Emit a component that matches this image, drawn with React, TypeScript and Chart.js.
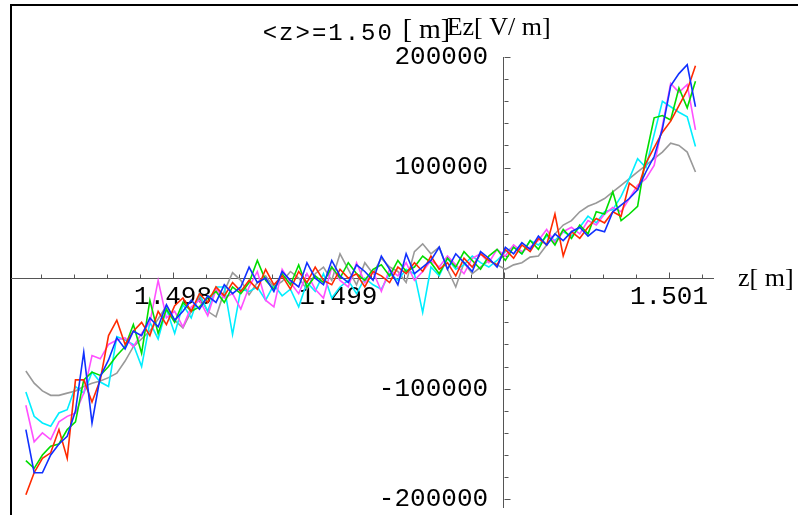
import { useEffect, useRef } from "react";
import { Chart, registerables } from "chart.js";

Chart.register(...registerables);

// sampling grid along z [m]
const Z_START = 1.49711;
const Z_STEP = 0.00005;
const N_POINTS = 82;

// Ez values in kV/m (converted to V/m below)
const redKV = [
  -196, -176, -163, -158, -137, -163, -92, -92, -112, -92, -52, -38, -60, -48, -40, -52, -30, -42, -25, -18,
  -30, -14, -22, -8, -16, -4, -12, -2, -10, 8, -6, 2, -10, 6, -4, 10, -2, -6, 8, 0,
  4, -8, 6, 2, -4, 10, 4, 14, 6, 20, 8, 14, 2, 18, 10, 22, 16, 12, 26, 18,
  30, 24, 36, 30, 58, 20, 42, 36, 46, 54, 50, 60, 56, 86, 80, 104, 118, 132, 142, 156,
  170, 192,
];
const greenKV = [
  -165, -172, -160, -152, -150, -137, -130, -92, -85, -88, -80, -70, -62, -42, -68, -20, -50, -28, -40, -22,
  -30, -26, -18, -12, -22, -8, -14, -4, 16, -2, -10, 4, -6, 12, -8, 2, -4, 10, 0, 14,
  4, -2, 8, 12, 2, 16, 6, 10, 20, 14, 4, 18, 10, 24, 16, 8, 20, 26, 16, 28,
  22, 34, 26, 40, 30, 44, 36, 48, 40, 60, 58, 78, 52, 58, 65, 110, 145, 147, 143, 172,
  154, 178,
];
const blueKV = [
  -137, -176, -176, -160, -150, -143, -120, -67, -131, -89, -74, -54, -64, -48, -52, -36, -44, -24, -38, -30,
  -20, -28, -16, -22, -6, -14, -8, 10, -4, 0, -12, 6, -2, -8, 14, 0, -6, 16, 2, -4,
  12, 6, -2, 20, 8, -6, 22, 4, 10, 16, 28, 8, 22, 14, 6, 24, 18, 10, 28, 22,
  32, 26, 38, 30, 40, 34, 42, 46, 38, 44, 42, 60, 66, 72, 80, 96, 110, 135, 174, 185,
  193, 155,
];
const magentaKV = [
  -115, -148, -140, -146, -130, -125, -122, -104, -70, -73, -60, -56, -54, -62, -50, -40, -2, -36, -30, -44,
  -26, -20, -34, -10, -18, -14, -28, -8, 6, -20, -26, 8, -4, -14, 4, -10, -18, 10, -2, -8,
  14, -4, 6, -12, 8, 2, 14, -2, 6, 16, 10, 20, 12, 4, 18, 22, 14, 26, 20, 30,
  24, 28, 34, 44, 32, 42, 46, 40, 52, 48, 58, 64, 60, 72, 84, 90, 102, 138, 176, 168,
  175, 134,
];
const cyanKV = [
  -103, -125, -131, -134, -122, -119, -98, -104, -85, -94, -98, -53, -56, -60, -80, -40, -55, -28, -50, -24,
  -36, -14, -30, -8, -8, -51, -10, -12, -8, -20, -6, -16, -10, -26, -4, -12, 4, -18, -8, -2,
  -14, 0, -6, -10, 4, -2, 8, 4, -31, 10, 2, 18, 8, 12, 20, 14, 10, 16, 24, 28,
  22, 34, 30, 38, 34, 42, 38, 46, 56, 50, 60, 62, 74, 90, 108, 100, 130, 160, 155, 150,
  146, 119,
];
const grayKV = [
  -84, -95, -102, -106, -106, -104, -102, -98, -95, -93, -90, -86, -75, -62, -55, -48, -37, -25, -38, -45,
  -30, -17, -30, -35, -12, 5, -2, -15, -4, 2, -8, -3, 6, 0, -10, 4, 10, -2, 22, 8,
  -6, 14, 4, 18, 10, 6, -4, 24, 31, 22, 28, 8, -8, 14, 4, 10, 16, 12, 8, 12,
  14, 19, 20, 30, 40, 48, 52, 60, 65, 68, 72, 78, 84, 90, 96, 102, 108, 114, 122, 120,
  114, 96,
];

const SERIES = [
  { name: "blue", color: "#1030ff", values: blueKV },
  { name: "red", color: "#ff2a00", values: redKV },
  { name: "green", color: "#00dd00", values: greenKV },
  { name: "magenta", color: "#ff50ff", values: magentaKV },
  { name: "cyan", color: "#00eeff", values: cyanKV },
  { name: "gray", color: "#999999", values: grayKV },
];

// axis ranges and ticks
const Z_MIN = 1.49702;
const Z_MAX = 1.501266;
const Z_ORIGIN = 1.5;
const Z_MINOR_STEP = 0.0002;
const E_MIN = -207000;
const E_MAX = 200000;
const E_TICK_FIRST = -200000;
const E_TICK_LAST = 200000;
const E_MINOR_STEP = 20000;

const PLOT_LABEL = "<z>=1.50";
const PLOT_LABEL_UNIT = "[ m]";
const Y_TITLE = "Ez[ V/ m]";
const X_TITLE = "z[ m]";

const AXIS_COLOR = "#555555";
const TICK_FONT = { family: "'Liberation Mono', monospace", size: 26 };

const isMajorZ = (v: number) => Math.abs(v * 1000 - Math.round(v * 1000)) < 1e-6;
const isMajorE = (v: number) => Math.abs(v % 100000) < 1e-6;

const tickMarks = {
  id: "tickMarks",
  beforeDatasetsDraw(chart: any) {
    const { ctx, scales } = chart;
    const xs = scales.x;
    const ys = scales.y;
    const x0 = Math.round(xs.getPixelForValue(Z_ORIGIN)) + 0.5;
    const y0 = Math.round(ys.getPixelForValue(0)) + 0.5;
    ctx.save();
    ctx.strokeStyle = AXIS_COLOR;
    ctx.lineWidth = 1;
    ctx.beginPath();
    xs.ticks.forEach((t: any) => {
      const px = Math.round(xs.getPixelForValue(t.value)) + 0.5;
      const len = isMajorZ(t.value) ? 6 : 4;
      ctx.moveTo(px, y0);
      ctx.lineTo(px, y0 - len);
    });
    ys.ticks.forEach((t: any) => {
      const py = Math.round(ys.getPixelForValue(t.value)) + 0.5;
      const len = isMajorE(t.value) ? 6 : 4;
      ctx.moveTo(x0, py);
      ctx.lineTo(x0 + len, py);
    });
    ctx.stroke();
    ctx.restore();
  },
};

const axisTexts = {
  id: "axisTexts",
  afterDraw(chart: any) {
    const { ctx, chartArea, scales } = chart;
    const x0 = scales.x.getPixelForValue(Z_ORIGIN);
    const y0 = scales.y.getPixelForValue(0);
    ctx.save();
    ctx.fillStyle = "#000";
    ctx.textBaseline = "alphabetic";
    ctx.textAlign = "left";
    ctx.font = "24px 'Liberation Mono'";
    (ctx as any).letterSpacing = "2px";
    ctx.fillText(PLOT_LABEL, x0 - 241, chartArea.top - 17);
    (ctx as any).letterSpacing = "0px";
    ctx.font = "28px 'Liberation Serif'";
    ctx.fillText(PLOT_LABEL_UNIT, x0 - 101, chartArea.top - 19);
    ctx.font = "26px 'Liberation Serif'";
    ctx.fillText(Y_TITLE, x0 - 57, chartArea.top - 22);
    ctx.fillText(X_TITLE, chartArea.right + 25, y0 + 8);
    ctx.restore();
  },
};

const zeroPadding = (scale: any) => {
  scale.paddingLeft = 0;
  scale.paddingRight = 0;
  scale.paddingTop = 0;
  scale.paddingBottom = 0;
};

export default function App() {
  const ref = useRef<HTMLCanvasElement | null>(null);

  useEffect(() => {
    if (!ref.current) return;
    const zGrid: number[] = [];
    for (let i = 0; i < N_POINTS; i++) zGrid.push(Z_START + i * Z_STEP);

    const chart = new Chart(ref.current, {
      type: "scatter",
      data: {
        datasets: SERIES.map((s) => ({
          label: s.name,
          data: s.values.map((v, i) => ({ x: zGrid[i], y: v * 1000 })),
          showLine: true,
          borderColor: s.color,
          backgroundColor: s.color,
          borderWidth: 1.6,
          pointRadius: 0,
          tension: 0,
        })),
      },
      options: {
        responsive: false,
        animation: false,
        layout: { padding: { left: 11, top: 57, right: 85, bottom: 8 } },
        plugins: { legend: { display: false }, tooltip: { enabled: false } },
        scales: {
          x: {
            type: "linear",
            min: Z_MIN,
            max: Z_MAX,
            position: { y: 0 } as any,
            afterFit: zeroPadding,
            grid: { display: true, drawOnChartArea: false, drawTicks: false },
            border: { display: true, color: AXIS_COLOR, width: 1 },
            ticks: {
              stepSize: Z_MINOR_STEP,
              includeBounds: false,
              autoSkip: false,
              maxRotation: 0,
              padding: 3,
              color: "#000",
              font: TICK_FONT,
              callback: (value: any) => {
                const v = Number(value);
                if (!isMajorZ(v)) return "";
                const k = Math.round(v * 1000);
                if (k === 1500) return "";
                return (k / 1000).toFixed(3);
              },
            },
          },
          y: {
            type: "linear",
            min: E_MIN,
            max: E_MAX,
            position: { x: Z_ORIGIN } as any,
            afterFit: zeroPadding,
            afterBuildTicks: (scale: any) => {
              const t: { value: number }[] = [];
              for (let v = E_TICK_FIRST; v <= E_TICK_LAST; v += E_MINOR_STEP) t.push({ value: v });
              scale.ticks = t;
            },
            grid: { display: true, drawOnChartArea: false, drawTicks: false },
            border: { display: true, color: AXIS_COLOR, width: 1 },
            ticks: {
              autoSkip: false,
              padding: 0,
              color: "#000",
              font: TICK_FONT,
              callback: (value: any) => {
                const v = Number(value);
                if (!isMajorE(v) || v === 0) return "";
                return String(v) + " ";
              },
            },
          },
        },
      },
      plugins: [tickMarks, axisTexts],
    });
    return () => chart.destroy();
  }, []);

  return (
    <div style={{ position: "fixed", left: 0, top: 0, width: 798, height: 515, background: "#fff" }}>
      <div
        style={{
          position: "absolute",
          left: 10,
          top: 4,
          right: 0,
          bottom: 0,
          borderLeft: "2px solid #000",
          borderTop: "2px solid #000",
        }}
      />
      <canvas ref={ref} width={798} height={515} style={{ position: "absolute", left: 0, top: 0 }} />
    </div>
  );
}
